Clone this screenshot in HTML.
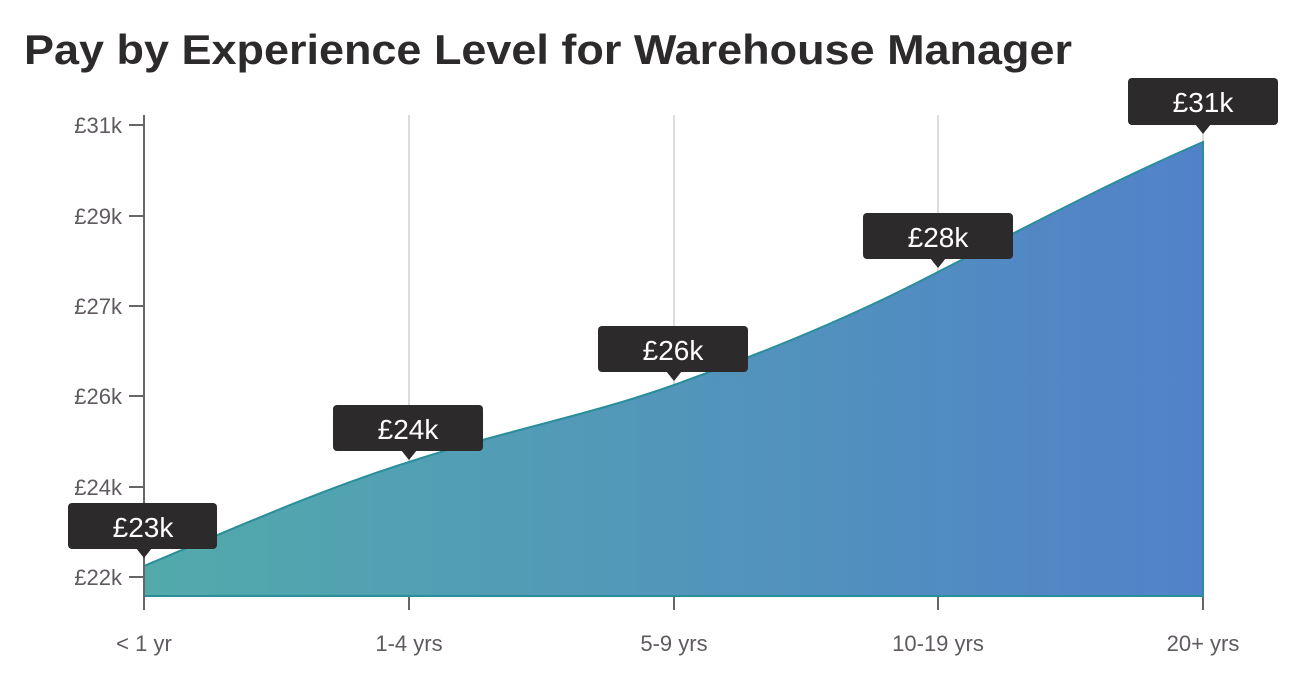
<!DOCTYPE html>
<html><head><meta charset="utf-8"><style>
body{margin:0;background:#fff;width:1316px;height:692px;overflow:hidden;font-family:"Liberation Sans",sans-serif}
</style></head><body>
<svg width="1316" height="692" xmlns="http://www.w3.org/2000/svg" font-family="Liberation Sans, sans-serif">
<defs><linearGradient id="g" x1="144" x2="1203" y1="0" y2="0" gradientUnits="userSpaceOnUse">
<stop offset="0" stop-color="#52aaab"/><stop offset="1" stop-color="#5182c9"/></linearGradient></defs>
<text x="24" y="64" font-size="42" font-weight="bold" fill="#2d2a2b" textLength="1048" lengthAdjust="spacingAndGlyphs">Pay by Experience Level for Warehouse Manager</text>
<g stroke="#d0d0d0" stroke-width="1.5">
<line x1="409" y1="115" x2="409" y2="597"/><line x1="674" y1="115" x2="674" y2="597"/><line x1="938" y1="115" x2="938" y2="597"/><line x1="1203" y1="115" x2="1203" y2="597"/>
</g>
<path d="M144,566 C230,530 320,490 409,462 C500,432 590,415 674,385 C765,352 850,318 938,272 C1030,225 1115,180 1203,142 L1203,596 L144,596 Z" fill="url(#g)"/>
<path d="M144,566 C230,530 320,490 409,462 C500,432 590,415 674,385 C765,352 850,318 938,272 C1030,225 1115,180 1203,142 L1203,596 L144,596" fill="none" stroke="#2a8d9a" stroke-width="2"/>
<g stroke="#666" stroke-width="2">
<line x1="144" y1="115" x2="144" y2="610"/>
<line x1="129" y1="125" x2="144" y2="125"/><line x1="129" y1="216" x2="144" y2="216"/><line x1="129" y1="306" x2="144" y2="306"/><line x1="129" y1="396" x2="144" y2="396"/><line x1="129" y1="487" x2="144" y2="487"/><line x1="129" y1="577" x2="144" y2="577"/>
<line x1="409" y1="597" x2="409" y2="610"/><line x1="674" y1="597" x2="674" y2="610"/><line x1="938" y1="597" x2="938" y2="610"/><line x1="1203" y1="597" x2="1203" y2="610"/>
</g>
<g font-size="22" fill="#5f5a60" text-anchor="end">
<text x="122" y="133">£31k</text><text x="122" y="224">£29k</text><text x="122" y="314">£27k</text><text x="122" y="404">£26k</text><text x="122" y="495">£24k</text><text x="122" y="585">£22k</text>
</g>
<g font-size="22" fill="#5f5a60" text-anchor="middle">
<text x="144" y="651">&lt; 1 yr</text><text x="409" y="651">1-4 yrs</text><text x="674" y="651">5-9 yrs</text><text x="938" y="651">10-19 yrs</text><text x="1203" y="651">20+ yrs</text>
</g>
<g fill="#2d2a2b">
<rect x="68" y="503" width="149" height="46" rx="4"/><path d="M136,548 L144,558 L152,548Z"/>
<rect x="333" y="405" width="150" height="46" rx="4"/><path d="M401,450 L409,460 L417,450Z"/>
<rect x="598" y="326" width="150" height="46" rx="4"/><path d="M666,371 L674,381 L682,371Z"/>
<rect x="863" y="213" width="150" height="46" rx="4"/><path d="M930,258 L938,268 L946,258Z"/>
<rect x="1128" y="78" width="150" height="47" rx="4"/><path d="M1195,124 L1203,134 L1211,124Z"/>
</g>
<g font-size="28" fill="#fff" text-anchor="middle">
<text x="143" y="537">£23k</text><text x="408" y="439">£24k</text><text x="673" y="360">£26k</text><text x="938" y="247">£28k</text><text x="1203" y="112">£31k</text>
</g>
</svg>
</body></html>
